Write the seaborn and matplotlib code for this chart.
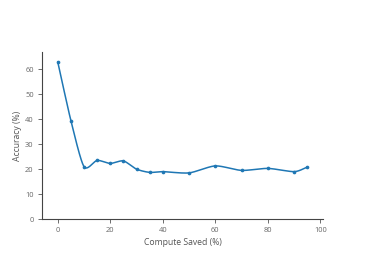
import numpy as np
import pandas as pd
import seaborn as sns
import matplotlib
matplotlib.use("Agg")
import matplotlib.pyplot as plt

compute_saved = [0, 5, 10, 15, 20, 25, 30, 35, 40, 50, 60, 70, 80, 90, 95]
accuracy = [63.0, 39.5, 21.0, 23.5, 22.3, 23.3, 20.0, 18.7, 19.0, 18.5, 21.3, 19.5, 20.3, 19.0, 20.8]
x_ticks = [0, 20, 40, 60, 80, 100]
y_ticks = [0, 10, 20, 30, 40, 50, 60]

sns.set_theme(style="ticks")
plt.rcParams['font.family'] = ['Open Sans', 'DejaVu Sans']

df = pd.DataFrame({"Compute Saved (%)": compute_saved, "Accuracy (%)": accuracy})


def catmull_rom(xs, ys, n=30, tension=0.38):
    xs = np.asarray(xs, float)
    ys = np.asarray(ys, float)
    px = np.concatenate([[2 * xs[0] - xs[1]], xs, [2 * xs[-1] - xs[-2]]])
    py = np.concatenate([[2 * ys[0] - ys[1]], ys, [2 * ys[-1] - ys[-2]]])
    outx, outy = [], []
    t = np.linspace(0, 1, n, endpoint=False)
    for i in range(1, len(px) - 2):
        p0x, p1x, p2x, p3x = px[i - 1:i + 3]
        p0y, p1y, p2y, p3y = py[i - 1:i + 3]
        m1x = tension * (p2x - p0x)
        m2x = tension * (p3x - p1x)
        m1y = tension * (p2y - p0y)
        m2y = tension * (p3y - p1y)
        h00 = 2 * t**3 - 3 * t**2 + 1
        h10 = t**3 - 2 * t**2 + t
        h01 = -2 * t**3 + 3 * t**2
        h11 = t**3 - t**2
        outx.append(h00 * p1x + h10 * m1x + h01 * p2x + h11 * m2x)
        outy.append(h00 * p1y + h10 * m1y + h01 * p2y + h11 * m2y)
    outx.append([xs[-1]])
    outy.append([ys[-1]])
    return np.concatenate(outx), np.concatenate(outy)


sx, sy = catmull_rom(compute_saved, accuracy)
smooth = pd.DataFrame({"x": sx, "y": sy})

fig = plt.figure(figsize=(3.66, 2.61), dpi=100)
ax = fig.add_axes([42 / 366, 1 - 219 / 261, (323 - 42) / 366, (219 - 52) / 261])

color = "#1f77b4"
sns.lineplot(data=smooth, x="x", y="y", ax=ax, color=color, linewidth=1.1, sort=False)
sns.scatterplot(data=df, x="Compute Saved (%)", y="Accuracy (%)", ax=ax, color=color,
                s=7, linewidth=0, zorder=3)

ax.set_xlim(-6, 101)
ax.set_ylim(0, 67)
ax.set_xticks(x_ticks)
ax.set_yticks(y_ticks)
ax.set_xlabel("Compute Saved (%)", fontsize=6.2, color="#555555", labelpad=2.5)
ax.set_ylabel("Accuracy (%)", fontsize=6.2, color="#555555", labelpad=2.5)
ax.tick_params(axis="both", labelsize=5.4, colors="#555555", length=3, width=0.6, pad=3,
               labelcolor="#666666")
sns.despine(ax=ax)
for s in ["left", "bottom"]:
    ax.spines[s].set_color("#444444")
    ax.spines[s].set_linewidth(0.8)

fig.savefig("out.png", dpi=100)
